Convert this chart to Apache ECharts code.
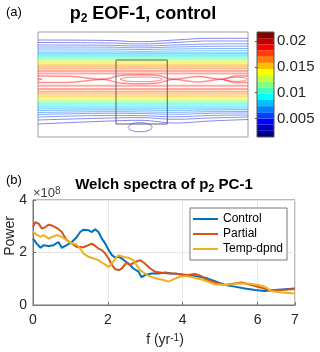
<!DOCTYPE html>
<html>
<head>
<meta charset="utf-8">
<script src="https://cdn.jsdelivr.net/npm/echarts@6/dist/echarts.min.js"></script>
<style>
  html, body { margin: 0; padding: 0; background: #fff; }
  #chart { width: 320px; height: 352px; }
</style>
</head>
<body>
<div id="chart"></div>
<script>
"use strict";

var FONT = '"Liberation Sans", Arial, sans-serif';

// ---- (a) p2 EOF-1 contours (x along box 0..210, y down from top 0..105)
var levels = [0.002, 0.003, 0.004, 0.005, 0.006, 0.007, 0.008, 0.009, 0.010,
              0.011, 0.012, 0.013, 0.014, 0.015, 0.016, 0.017, 0.018, 0.019, 0.0195];
var levelColors = ['#2020e0', '#2030ea', '#2040f2', '#2058fa', '#1070ff', '#0090ff',
                   '#00b0ff', '#00d0ff', '#00f0f0', '#30ffc0', '#70ff80', '#b0ff40',
                   '#e8f800', '#ffd800', '#ffb000', '#ff8800', '#ff5800', '#ff3000', '#ff2828'];
var stationX = [0, 72, 102, 137, 172, 210];
var topY = [
    [8, 8.5, 9.7, 8, 6.3, 6.3],
    [10.5, 11, 12, 10.5, 9, 9],
    [13, 13.3, 14, 13, 12, 11.8],
    [15, 15.2, 15.8, 15, 14.3, 14.2],
    [17, 17.1, 17.5, 17, 16.6, 16.5],
    [19, 19, 19.3, 19, 18.8, 18.7],
    21, 22.5, 24, 25.5, 27, 28.5, 30, 31.5, 33, 34.5, 36.5, 39, 41.5
];
var botY = [
    [92, 89, 88.3, 91, 89, 87.5],
    [88, 86, 85.6, 87.3, 86, 85],
    [85, 83.5, 83.6, 84.8, 83.5, 83],
    [82.5, 81.3, 81.5, 82.3, 81.3, 81],
    [80.5, 79.7, 79.9, 80.3, 79.7, 79.5],
    [78.5, 78, 78.1, 78.4, 78, 77.8],
    76.5, 74.5, 72.5, 71, 69.5, 68, 66.5, 65, 63.5, 61.5, 59.5, 57, 53.8
];
// 0.020 contour: chain of lenses pinched at saddles
var lensTop = [[0, 44], [32, 44.3], [65, 47.3], [82, 43.5], [100, 42.8], [120, 43.5],
               [135, 47.3], [160, 44.5], [184, 47.3], [197, 44], [210, 44]];
var lensBot = [[0, 50.6], [32, 50.3], [65, 47.3], [82, 51.1], [100, 51.8], [120, 51.1],
               [135, 47.3], [160, 50.1], [184, 47.3], [197, 50.6], [210, 50.6]];
// 0.021 closed maxima
var ovalA = [[82, 47.3], [88, 45.6], [103, 45], [118, 45.6], [124, 47.3],
             [118, 49], [103, 49.6], [88, 49], [82, 47.3]];
var ovalB = [[185, 47.3], [190, 45.8], [198, 45.3], [206, 45.8], [209, 47.3],
             [206, 48.8], [198, 49.3], [190, 48.8], [185, 47.3]];
var ovalEdge = [[0, 46.6], [4, 47.3], [0, 48]];
// low closed contour under the box
var ovalLow = [[90, 95.2], [93.5, 92], [102, 90.7], [110.5, 92], [114, 95.2],
               [110.5, 98.4], [102, 99.7], [93.5, 98.4], [90, 95.2]];
var boxX = [78, 129.3];
var boxY = [28, 92];

// colorbar
var cbarEdges = [0.0014, 0.0026, 0.0038, 0.0050, 0.0062, 0.0074, 0.0086, 0.0098, 0.0110,
                 0.0122, 0.0134, 0.0146, 0.0158, 0.0170, 0.0182, 0.0194, 0.0206, 0.0218];
var cbarColors = ['#000080', '#0000bf', '#0000ff', '#0040ff', '#0080ff', '#00bfff',
                  '#00ffff', '#40ffbf', '#80ff80', '#bfff40', '#ffff00', '#ffbf00',
                  '#ff8000', '#ff4000', '#ff0000', '#bf0000', '#800000'];
var cbarTicks = [0.005, 0.01, 0.015, 0.02];

// ---- (b) Welch spectra, [f (1/yr), power (x1e8)]
var controlSpec = [[0, 2.53], [0.1, 2.34], [0.2, 2.18], [0.28, 2.28], [0.42, 2.25], [0.55, 2.28],
    [0.68, 2.4], [0.77, 2.18], [0.9, 2.28], [1.04, 2.4], [1.17, 2.59], [1.26, 2.78], [1.35, 2.87],
    [1.48, 2.85], [1.57, 2.78], [1.66, 2.88], [1.75, 2.78], [1.84, 2.53], [1.93, 2.34], [2.02, 2.09],
    [2.11, 1.9], [2.2, 1.8], [2.29, 1.84], [2.37, 1.77], [2.55, 1.58], [2.68, 1.39], [2.82, 1.27],
    [2.9, 1.06], [2.99, 1.14], [3.17, 1.2], [3.35, 1.2], [3.53, 1.24], [3.7, 1.2], [3.88, 1.18],
    [4.06, 1.14], [4.33, 1.1], [4.6, 1.04], [4.86, 0.91], [5.13, 0.76], [5.39, 0.7], [5.66, 0.63],
    [5.93, 0.57], [6.19, 0.53], [6.46, 0.57], [6.73, 0.6], [7, 0.63]];
var partialSpec = [[0, 2.97], [0.06, 3.16], [0.15, 3.1], [0.24, 2.91], [0.33, 2.97], [0.42, 3.06],
    [0.5, 3.03], [0.64, 2.93], [0.77, 2.78], [0.82, 2.66], [0.9, 2.47], [0.99, 2.38], [1.08, 2.3],
    [1.17, 2.21], [1.26, 2.21], [1.35, 2.2], [1.48, 2.28], [1.57, 2.34], [1.66, 2.25], [1.75, 2.15],
    [1.84, 2.09], [1.93, 1.96], [2.02, 1.77], [2.11, 1.52], [2.2, 1.36], [2.29, 1.33], [2.37, 1.39],
    [2.5, 1.61], [2.59, 1.52], [2.73, 1.64], [2.86, 1.71], [2.99, 1.58], [3.13, 1.39], [3.26, 1.27],
    [3.44, 1.23], [3.62, 1.2], [3.8, 1.2], [3.97, 1.16], [4.15, 1.14], [4.33, 1.18], [4.5, 1.1],
    [4.6, 0.99], [4.86, 0.86], [5.13, 0.76], [5.39, 0.82], [5.57, 0.86], [5.84, 0.76], [6.1, 0.66],
    [6.37, 0.53], [6.64, 0.57], [7, 0.61]];
var tempSpec = [[0, 2.8], [0.1, 2.68], [0.2, 2.59], [0.28, 2.66], [0.42, 2.53], [0.5, 2.59],
    [0.64, 2.66], [0.77, 2.59], [0.9, 2.47], [1.04, 2.34], [1.17, 2.3], [1.26, 2.15], [1.35, 1.96],
    [1.48, 1.84], [1.62, 1.77], [1.75, 1.71], [1.84, 1.62], [1.93, 1.54], [2.02, 1.45], [2.11, 1.58],
    [2.2, 1.77], [2.29, 1.9], [2.41, 1.83], [2.55, 1.8], [2.68, 1.71], [2.77, 1.52], [2.86, 1.33],
    [2.99, 1.2], [3.13, 1.08], [3.31, 1.01], [3.48, 0.95], [3.62, 0.89], [3.75, 0.98], [3.93, 1.08],
    [4.1, 1.1], [4.33, 1.04], [4.55, 0.95], [4.86, 0.79], [5.13, 0.76], [5.48, 0.82], [5.75, 0.82],
    [6.01, 0.76], [6.19, 0.7], [6.37, 0.53], [6.64, 0.48], [7, 0.44]];
var seriesNames = ['Control', 'Partial', 'Temp-dpnd'];
var seriesColors = ['#0072bd', '#d95319', '#edb120'];


var chart = echarts.init(document.getElementById('chart'), null, { renderer: 'canvas' });
var series = [];

function addContour(data, color, smooth, width, opacity) {
    series.push({
        type: 'line', xAxisIndex: 0, yAxisIndex: 0, data: data, symbol: 'none',
        smooth: smooth, silent: true, z: 2,
        lineStyle: { color: color, width: width || 1, opacity: opacity || 0.55 }
    });
}

function branch(row) {
    if (typeof row === 'number') {
        return [[stationX[0], row], [stationX[stationX.length - 1], row]];
    }
    return stationX.map(function (x, j) { return [x, row[j]]; });
}

levels.forEach(function (lv, i) {
    // the packed middle levels blur into pale bands in the original
    var w = lv >= 0.008 ? 2 : 1;
    var op = lv >= 0.008 ? 0.4 : 0.55;
    addContour(branch(topY[i]), levelColors[i], 0.4, w, op);
    addContour(branch(botY[i]), levelColors[i], 0.4, w, op);
});
addContour(lensTop, '#ff2020', 0.25, 1.5, 0.5);
addContour(lensBot, '#ff2020', 0.25, 1.5, 0.5);
addContour(ovalA, '#ff2020', 0.5);
addContour(ovalB, '#ff2020', 0.5);
addContour(ovalEdge, '#ff2020', 0.5);
addContour(ovalLow, '#2020e0', 0.5);

// study region box
series.push({
    type: 'line', xAxisIndex: 0, yAxisIndex: 0, symbol: 'none', silent: true, z: 3,
    data: [[boxX[0], boxY[0]], [boxX[1], boxY[0]], [boxX[1], boxY[1]], [boxX[0], boxY[1]], [boxX[0], boxY[0]]],
    lineStyle: { color: '#606060', width: 1 }
});

// colorbar bands
var bands = [];
for (var k = 0; k < cbarColors.length; k++) {
    bands.push([{ yAxis: cbarEdges[k], itemStyle: { color: cbarColors[k] } }, { yAxis: cbarEdges[k + 1] }]);
}
series.push({
    type: 'line', xAxisIndex: 1, yAxisIndex: 1, data: [[0, cbarEdges[0]]], symbol: 'none',
    silent: true, lineStyle: { width: 0 },
    markArea: { silent: true, data: bands }
});

// spectra
[controlSpec, partialSpec, tempSpec].forEach(function (d, i) {
    series.push({
        name: seriesNames[i], type: 'line', xAxisIndex: 2, yAxisIndex: 2, data: d,
        symbol: 'none', z: 3 + i,
        lineStyle: { color: seriesColors[i], width: 2 },
        itemStyle: { color: seriesColors[i] }
    });
});

var axisGray = '#777';

var option = {
    animation: false,
    backgroundColor: '#fff',
    textStyle: { fontFamily: FONT },
    grid: [
        { left: 38, top: 32, width: 210, height: 105, show: true, borderColor: '#a0a0a0', borderWidth: 1 },
        { left: 257, top: 32, width: 17, height: 105, show: true, borderColor: '#555', borderWidth: 1, z: 5 },
        { left: 33, top: 200, width: 262, height: 105, show: true, borderColor: axisGray, borderWidth: 1 }
    ],
    xAxis: [
        { gridIndex: 0, type: 'value', min: 0, max: 210, show: false },
        { gridIndex: 1, type: 'value', min: 0, max: 1, show: false },
        {
            gridIndex: 2, type: 'value', min: 0, max: 7, interval: 2,
            axisLine: { lineStyle: { color: axisGray } },
            axisTick: { inside: true, length: 3, lineStyle: { color: axisGray } },
            axisLabel: { color: '#262626', fontSize: 14, margin: 8, fontFamily: FONT },
            splitLine: { show: true, lineStyle: { color: '#e6e6e6' } }
        }
    ],
    yAxis: [
        { gridIndex: 0, type: 'value', min: 0, max: 105, inverse: true, show: false },
        {
            gridIndex: 1, type: 'value', min: cbarEdges[0], max: cbarEdges[cbarEdges.length - 1],
            position: 'right',
            axisLine: { show: false },
            axisTick: { show: true, inside: true, length: 2, customValues: cbarTicks, lineStyle: { color: '#555' } },
            axisLabel: { customValues: cbarTicks, color: '#262626', fontSize: 15, margin: 3, fontFamily: FONT },
            splitLine: { show: false }
        },
        {
            gridIndex: 2, type: 'value', min: 0, max: 4, interval: 2,
            axisLine: { show: true, lineStyle: { color: axisGray } },
            axisTick: { show: true, inside: true, length: 3, lineStyle: { color: axisGray } },
            axisLabel: { color: '#262626', fontSize: 14, margin: 6, fontFamily: FONT },
            splitLine: { show: true, lineStyle: { color: '#e6e6e6' } }
        }
    ],
    legend: {
        data: seriesNames,
        orient: 'vertical',
        left: 190, top: 208,
        icon: 'rect',
        itemWidth: 25, itemHeight: 2, itemGap: 1, itemTextGap: 4,
        padding: [4, 4, 4, 3],
        backgroundColor: '#fff', borderColor: axisGray, borderWidth: 1,
        textStyle: { fontSize: 12, color: '#000', fontFamily: FONT, lineHeight: 14 }
    },
    graphic: [
        { type: 'text', x: 6, y: 12, style: { text: '(a)', font: '13px ' + FONT, fill: '#000', verticalAlign: 'middle' } },
        { type: 'text', x: 6, y: 180, style: { text: '(b)', font: '13px ' + FONT, fill: '#000', verticalAlign: 'middle' } },
        {
            type: 'text', x: 143, y: 14,
            style: {
                text: '{b|p}{s|2}{b| EOF-1, control}', align: 'center', verticalAlign: 'middle',
                rich: {
                    b: { fontSize: 18, fontWeight: 'bold', fontFamily: FONT, fill: '#000' },
                    s: { fontSize: 12, fontWeight: 'bold', fontFamily: FONT, fill: '#000',
                         verticalAlign: 'bottom', padding: [10, 0, 0, 0] }
                }
            }
        },
        {
            type: 'text', x: 164, y: 185,
            style: {
                text: '{b|Welch spectra of p}{s|2}{b| PC-1}', align: 'center', verticalAlign: 'middle',
                rich: {
                    b: { fontSize: 15, fontWeight: 'bold', fontFamily: FONT, fill: '#000' },
                    s: { fontSize: 11, fontWeight: 'bold', fontFamily: FONT, fill: '#000',
                         verticalAlign: 'bottom', padding: [8, 0, 0, 0] }
                }
            }
        },
        {
            type: 'text', x: 33, y: 193,
            style: {
                text: '{n|\u00d710}{p|8}', verticalAlign: 'middle',
                rich: {
                    n: { fontSize: 13, fontFamily: FONT, fill: '#404040' },
                    p: { fontSize: 10, fontFamily: FONT, fill: '#404040', verticalAlign: 'top' }
                }
            }
        },
        {
            type: 'text', x: 10, y: 236, rotation: Math.PI / 2,
            style: { text: 'Power', font: '14px ' + FONT, fill: '#262626', align: 'center', verticalAlign: 'middle' }
        },
        {
            type: 'text', x: 165, y: 340,
            style: {
                text: '{n|f (yr}{p|-1}{n|)}', align: 'center', verticalAlign: 'middle',
                rich: {
                    n: { fontSize: 14, fontFamily: FONT, fill: '#262626' },
                    p: { fontSize: 10, fontFamily: FONT, fill: '#262626', verticalAlign: 'top' }
                }
            }
        }
    ],
    series: series
};

chart.setOption(option);
</script>
</body>
</html>
